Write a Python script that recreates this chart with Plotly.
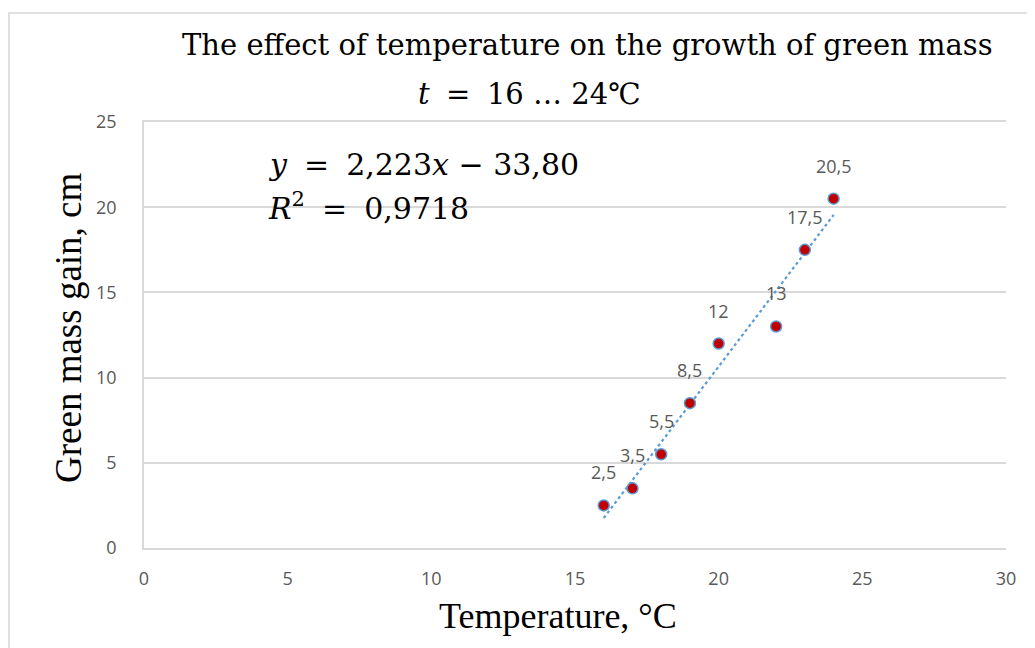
import math
import numpy as np
import plotly.graph_objects as go

# Data
temperature = [16, 17, 18, 19, 20, 22, 23, 24]
mass_gain = [2.5, 3.5, 5.5, 8.5, 12, 13, 17.5, 20.5]
x_ticks = [0, 5, 10, 15, 20, 25, 30]
y_ticks = [0, 5, 10, 15, 20, 25]

title_line1 = "The effect of temperature on the growth of green mass"
x_title = "Temperature, °C"
y_title = "Green mass gain, cm"

def comma(s):
    return s.replace(".", ",")

def trunc(v, d):
    f = 10 ** d
    return math.trunc(v * f) / f

# Linear trend
slope, intercept = np.polyfit(temperature, mass_gain, 1)
pred = np.polyval([slope, intercept], temperature)
ss_res = np.sum((np.array(mass_gain) - pred) ** 2)
ss_tot = np.sum((np.array(mass_gain) - np.mean(mass_gain)) ** 2)
r2 = 1 - ss_res / ss_tot
trend_x = [min(temperature), max(temperature)]
trend_y = [slope * v + intercept for v in trend_x]

serif = "Liberation Serif"
math_font = "DejaVu Serif"
sans = "Open Sans"

# plot area in screen pixels (page has 8px body margin)
PX0, PX1, PY0, PY1 = 144, 1006, 122, 548
def px(x):
    return (x - PX0) / (PX1 - PX0)
def py(y):
    return (PY1 - y) / (PY1 - PY0)

fig = go.Figure()
fig.add_trace(go.Scatter(
    x=trend_x, y=trend_y, mode="lines",
    line=dict(color="#5B9BD5", width=2.2, dash="dot"),
    hoverinfo="skip", showlegend=False,
))
fig.add_trace(go.Scatter(
    x=temperature, y=mass_gain, mode="markers",
    marker=dict(size=11, color="#C00000", line=dict(color="#5B9BD5", width=1.5)),
    showlegend=False,
))

annotations = []
for xv, yv in zip(temperature, mass_gain):
    annotations.append(dict(
        x=xv, y=yv, xref="x", yref="y", text=comma(f"{yv:g}"),
        showarrow=False, yshift=33, font=dict(family=sans, size=18, color="#595959"),
    ))

sp = "&#8197;"  # extra space around operators, like Cambria Math
# Title lines
annotations.append(dict(
    x=px(587), y=py(45), xref="paper", yref="paper", text=title_line1,
    showarrow=False, xanchor="center", yanchor="middle",
    font=dict(family=math_font, size=29, color="#000000"),
))
annotations.append(dict(
    x=px(529), y=py(94), xref="paper", yref="paper",
    text=f"<i>t</i>{sp} = {sp}{min(temperature)} … {max(temperature)}℃",
    showarrow=False, xanchor="center", yanchor="middle",
    font=dict(family=math_font, size=29, color="#000000"),
))

# Equation
eq1 = (f"<i>y</i>{sp} = {sp}{comma(f'{slope:.3f}')}<i>x</i> − "
       f"{comma(f'{trunc(abs(intercept), 2):.2f}')}")
eq2 = f"<i>R</i><sup>2</sup>{sp} = {sp}{comma(f'{r2:.4f}')}"
annotations.append(dict(
    x=px(266), y=py(164), xref="paper", yref="paper", text=eq1,
    showarrow=False, xanchor="left", yanchor="middle",
    font=dict(family=math_font, size=30, color="#000000"),
))
annotations.append(dict(
    x=px(266), y=py(206), xref="paper", yref="paper", text=eq2,
    showarrow=False, xanchor="left", yanchor="middle",
    font=dict(family=math_font, size=30, color="#000000"),
))

# Axis titles
annotations.append(dict(
    x=px(558), y=py(616), xref="paper", yref="paper", text=x_title,
    showarrow=False, xanchor="center", yanchor="middle",
    font=dict(family=serif, size=36, color="#000000"),
))
annotations.append(dict(
    x=px(68), y=py(328), xref="paper", yref="paper", text=y_title,
    showarrow=False, xanchor="center", yanchor="middle", textangle=-90,
    font=dict(family=serif, size=37, color="#000000"),
))

W, H = 1035, 648
fig.update_layout(
    width=W, height=H,
    margin=dict(l=PX0 - 8, r=W + 8 - PX1, t=PY0 - 8, b=H + 8 - PY1),
    paper_bgcolor="white", plot_bgcolor="white",
    annotations=annotations,
    shapes=[dict(
        type="rect", xref="paper", yref="paper",
        x0=px(9), x1=px(1060), y0=py(680), y1=py(13),
        line=dict(color="#E0E0E0", width=2), layer="below",
    )],
)
fig.update_xaxes(
    range=[0, 30], tickvals=x_ticks, showgrid=False, zeroline=False,
    showline=True, mirror=True, linecolor="#D9D9D9", linewidth=1.5,
    ticks="", ticklabelstandoff=14,
    tickfont=dict(family=sans, size=18, color="#595959"),
)
fig.update_yaxes(
    range=[0, 25], tickvals=y_ticks, showgrid=True, gridcolor="#D9D9D9", gridwidth=1.5,
    zeroline=False, showline=True, linecolor="#D9D9D9", linewidth=1.5, ticks="",
    ticklabelstandoff=22,
    tickfont=dict(family=sans, size=18, color="#595959"),
)

fig.write_html("out.html")
